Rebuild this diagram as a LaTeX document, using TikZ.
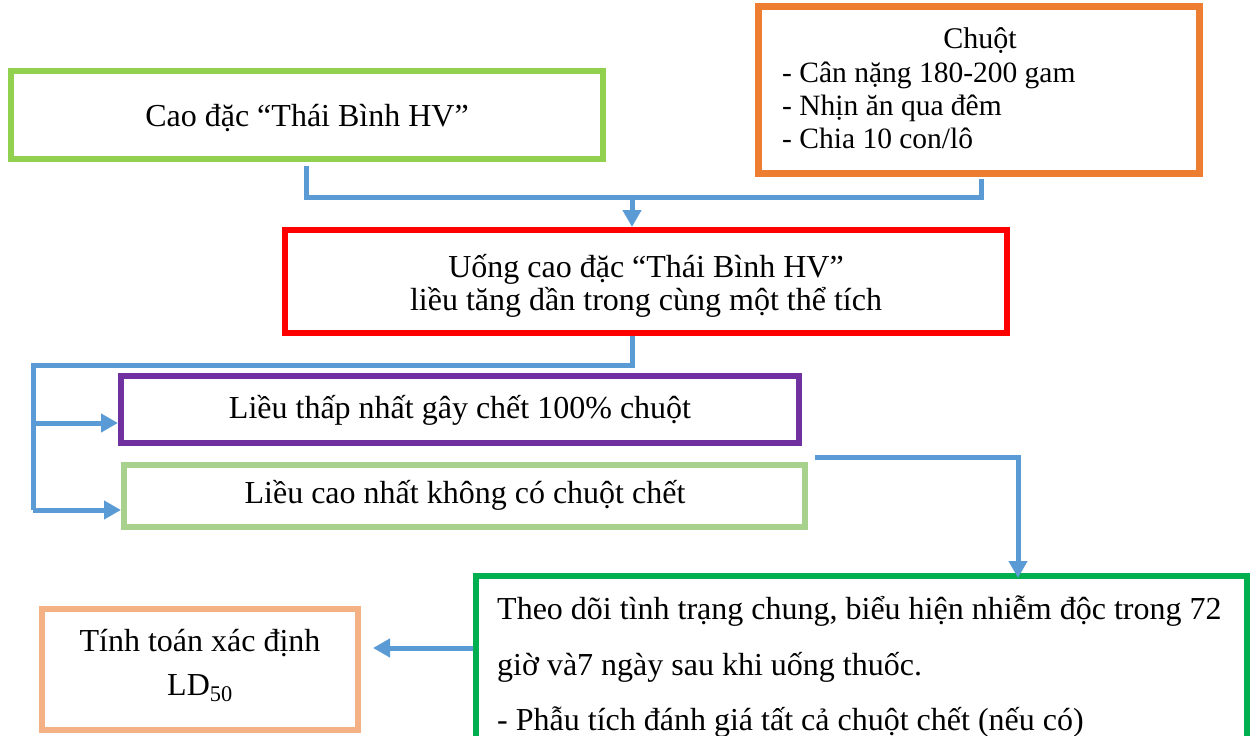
\documentclass[tikz,border=0pt]{standalone}
\usepackage{fontspec}
\setmainfont{Liberation Serif}
\usetikzlibrary{arrows.meta}
\definecolor{cblue}{HTML}{5B9BD5}
\definecolor{cgreenA}{HTML}{92D050}
\definecolor{corange}{HTML}{ED7D31}
\definecolor{cpurple}{HTML}{7030A0}
\definecolor{cgreenB}{HTML}{A9D18E}
\definecolor{cgreenC}{HTML}{00B050}
\definecolor{cpeach}{HTML}{F4B183}
\tikzset{
  box/.style={draw, line width=6pt, fill=white, inner sep=0pt},
  txt/.style={anchor=base, inner sep=0pt, font=\fontsize{32}{36}\selectfont},
  txtl/.style={anchor=base west, inner sep=0pt, font=\fontsize{32}{36}\selectfont},
  conn/.style={draw=cblue, line width=5pt},
  arr/.style={conn, -{Triangle[length=17pt,width=18pt]}},
}
\begin{document}
\begin{tikzpicture}[x=1pt,y=-1pt]
\useasboundingbox (0,0) rectangle (1251,736);
\clip (0,0) rectangle (1251,736);
% boxes
\node[box, draw=cgreenA, minimum width=592pt, minimum height=88pt] (cao) at (307,115) {};
\node[box, draw=corange, line width=7pt, minimum width=441pt, minimum height=167pt] (chuot) at (979,90) {};
\node[box, draw=red, minimum width=722pt, minimum height=103pt] (uong) at (646,281.5) {};
\node[box, draw=cpurple, minimum width=678pt, minimum height=67pt] (lieuA) at (460,409.5) {};
\node[box, draw=cgreenB, minimum width=681pt, minimum height=62pt] (lieuB) at (464.5,496) {};
\node[box, draw=cgreenC, minimum width=771pt, minimum height=184pt] (theo) at (861.5,668) {};
\node[box, draw=cpeach, minimum width=316pt, minimum height=121pt] (tinh) at (200,669.5) {};
% texts
\node[txt] (caoT) at (307,126) {Cao đặc “Thái Bình HV”};
\node[txt, font=\fontsize{30}{34}\selectfont] (chuotT) at (980,48) {Chuột};
\node[txtl, font=\fontsize{29.5}{34}\selectfont] (chuotA) at (782,82) {- Cân nặng 180-200 gam};
\node[txtl, font=\fontsize{29.5}{34}\selectfont] (chuotB) at (782,115) {- Nhịn ăn qua đêm};
\node[txtl, font=\fontsize{29.5}{34}\selectfont] (chuotC) at (782,148) {- Chia 10 con/lô};
\node[txt] (uongA) at (646,277) {Uống cao đặc “Thái Bình HV”};
\node[txt] (uongB) at (646,310) {liều tăng dần trong cùng một thể tích};
\node[txt] (lieuAT) at (460,418) {Liều thấp nhất gây chết 100\% chuột};
\node[txt] (lieuBT) at (465,503) {Liều cao nhất không có chuột chết};
\node[txtl] (theoA) at (497,619) {Theo dõi tình trạng chung, biểu hiện nhiễm độc trong 72};
\node[txtl] (theoB) at (497,675) {giờ và7 ngày sau khi uống thuốc.};
\node[txtl] (theoC) at (497,730) {- Phẫu tích đánh giá tất cả chuột chết (nếu có)};
\node[txt] (tinhA) at (200,651) {Tính toán xác định};
\node[txt] (tinhB) at (200,695) {LD\textsubscript{50}};
% connectors
\coordinate (j1) at (632,197);
\coordinate (j2) at (33,365);
\coordinate (j3) at (33,510);
\coordinate (j4) at (815,457);
\coordinate (j5) at (1018,578);
\coordinate (j6) at (373,648);
\draw[conn] (cao.south -| 306,0) ++(0,4) |- (j1);
\draw[conn] (chuot.south -| 981,0) ++(0,2) |- (j1);
\draw[arr] (j1) -- (uong.north -| j1);
\draw[conn] (uong.south -| j1) |- (j2) -- (j3);
\draw[arr] (j2 |- 0,423) -- (lieuA.west |- 0,423);
\draw[arr] (j3) -- (lieuB.west |- j3);
\draw[arr] (j4) -| (j5);
\draw[arr] (theo.west |- j6) -- (j6);
\end{tikzpicture}
\end{document}
